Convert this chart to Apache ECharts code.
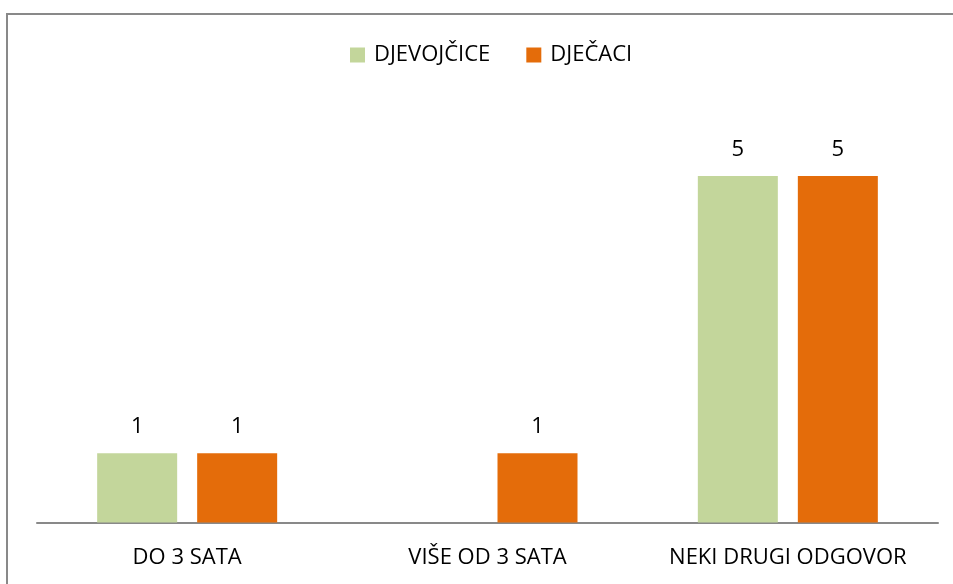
<!DOCTYPE html>
<html><head><meta charset="utf-8">
<script src="https://cdn.jsdelivr.net/npm/echarts@6/dist/echarts.min.js"></script>
<style>html,body{margin:0;padding:0;background:#fff}#c{width:953px;height:584px}</style>
</head><body><div id="c"></div>
<script>
const categories = ['DO 3 SATA', 'VIŠE OD 3 SATA', 'NEKI DRUGI ODGOVOR'];
const seriesNames = ['DJEVOJČICE', 'DJEČACI'];
const girls = [1, null, 5];
const boys = [1, 1, 5];
const font = 'Open Sans, Lato, sans-serif';
const chart = echarts.init(document.getElementById('c'), null, {renderer: 'canvas'});
const lbl = {show: true, position: 'top', distance: 15, color: '#000', fontSize: 22, fontFamily: font};
chart.setOption({
  animation: false,
  backgroundColor: '#fff',
  graphic: [{type: 'rect', shape: {x: 7, y: 14, width: 1000, height: 700}, style: {fill: 'none', stroke: '#898989', lineWidth: 2}}],
  legend: {
    top: 39, left: 345, itemWidth: 15, itemHeight: 15, itemGap: 36,
    icon: 'rect',
    textStyle: {fontSize: 22, fontFamily: font, color: '#000', padding: [0, 0, 0, 4]},
    data: seriesNames
  },
  grid: {left: 37, right: 15, top: 106.8, bottom: 61.5, containLabel: false},
  xAxis: {
    type: 'category', data: categories,
    axisLine: {lineStyle: {color: '#898989', width: 2}},
    axisTick: {show: false},
    axisLabel: {fontSize: 22, fontFamily: font, color: '#000', margin: 24, interval: 0, hideOverlap: false}
  },
  yAxis: {type: 'value', min: 0, max: 6, show: false, splitLine: {show: false}},
  series: [
    {name: seriesNames[0], type: 'bar', data: girls, barWidth: 80, barGap: '25%', itemStyle: {color: '#C3D69B'}, label: lbl},
    {name: seriesNames[1], type: 'bar', data: boys, barWidth: 80, barGap: '25%', itemStyle: {color: '#E46C0A'}, label: lbl}
  ]
});
</script></body></html>
